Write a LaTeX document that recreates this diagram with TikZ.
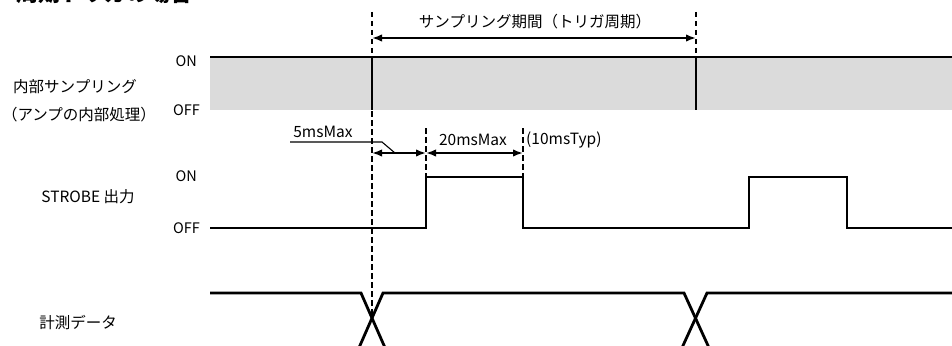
\documentclass[tikz,border=0pt]{standalone}
\usepackage{fontspec}
\setmainfont{Noto Sans CJK JP}
\usetikzlibrary{arrows.meta}

\begin{document}
\begin{tikzpicture}[
  x=1pt, y=-1pt,
  sig/.style={line width=2.8pt, line join=miter},
  guide/.style={line width=1.2pt, dash pattern=on 5.5pt off 3.5pt},
  dim/.style={line width=1.9pt, {Latex[length=10pt,width=7.5pt]}-{Latex[length=10pt,width=7.5pt]}},
  lvl/.style={font=\fontsize{14.5}{14.5}\selectfont, anchor=east, inner sep=0pt},
  sname/.style={font=\fontsize{15.5}{15.5}\selectfont, inner sep=0pt},
  note/.style={font=\fontsize{15.5}{15.5}\selectfont, inner sep=0pt}
]
  \useasboundingbox (0,0) rectangle (952,345);
  \clip (0,0) rectangle (952,345);

  % --- Título (cortado por arriba) ---
  \node[font=\bfseries\fontsize{22}{22}\selectfont, anchor=base east, inner sep=0pt] (title) at (193,2) {周期トリガの場合};

  % --- Líneas guía ---
  \coordinate (g1_top) at (372,12);  \coordinate (g1_bot) at (372,318);
  \coordinate (g2_top) at (696,12);  \coordinate (g2_bot) at (696,57);
  \coordinate (g3_top) at (426,128); \coordinate (g3_bot) at (426,177);
  \coordinate (g4_top) at (523,128); \coordinate (g4_bot) at (523,177);

  % --- Muestreo interno ---
  \fill[black!14] (210,57) rectangle (952,110);
  \draw[sig] (210,57) -- (952,57);
  \draw[sig] (372,57) -- (372,110);
  \draw[sig] (696,57) -- (696,110);

  \draw[guide] (g1_top) -- (g1_bot);
  \draw[guide] (g2_top) -- (g2_bot);
  \draw[guide] (g3_top) -- (g3_bot);
  \draw[guide] (g4_top) -- (g4_bot);

  \node[lvl] (s_on)  at (197,61)  {ON};
  \node[lvl] (s_off) at (200,110) {OFF};
  \node[sname] (s_name1) at (75,87)  {内部サンプリング};
  \node[sname] (s_name2) at (79,115) {（アンプの内部処理）};

  % Periodo de muestreo
  \coordinate (per_a) at (372,38);
  \coordinate (per_b) at (696,38);
  \draw[dim] (per_a) -- (per_b);
  \node[note] (period) at (535,22) {サンプリング期間（トリガ周期）};

  % --- STROBE ---
  \coordinate (d1_a) at (372,153);
  \coordinate (d1_b) at (426,153);
  \coordinate (d2_b) at (523,153);
  \draw[dim] (d1_a) -- (d1_b);
  \draw[dim] (d1_b) -- (d2_b);

  \node[note] (t5)  at (323,132) {5msMax};
  \draw[line width=1.1pt] (290,142) -- (382,142) -- (395,153);
  \node[note] (t20) at (473,140) {20msMax};
  \node[note, anchor=west] (t10) at (526,140) {(10msTyp)};

  \draw[sig] (210,228) -- (426,228) -- (426,177) -- (523,177) -- (523,228)
             -- (749,228) -- (749,177) -- (847,177) -- (847,228) -- (952,228);

  \node[lvl] (b_on)  at (197,176) {ON};
  \node[lvl] (b_off) at (200,228) {OFF};
  \node[sname] (b_name) at (88,197) {STROBE 出力};

  % --- Datos de medida ---
  \draw[sig] (210,293) -- (361,293) -- (386,350);
  \draw[sig] (358,350) -- (383,293) -- (684,293) -- (710,350);
  \draw[sig] (681,350) -- (707,293) -- (952,293);

  \node[sname] (m_name) at (78,323) {計測データ};
\end{tikzpicture}
\end{document}
